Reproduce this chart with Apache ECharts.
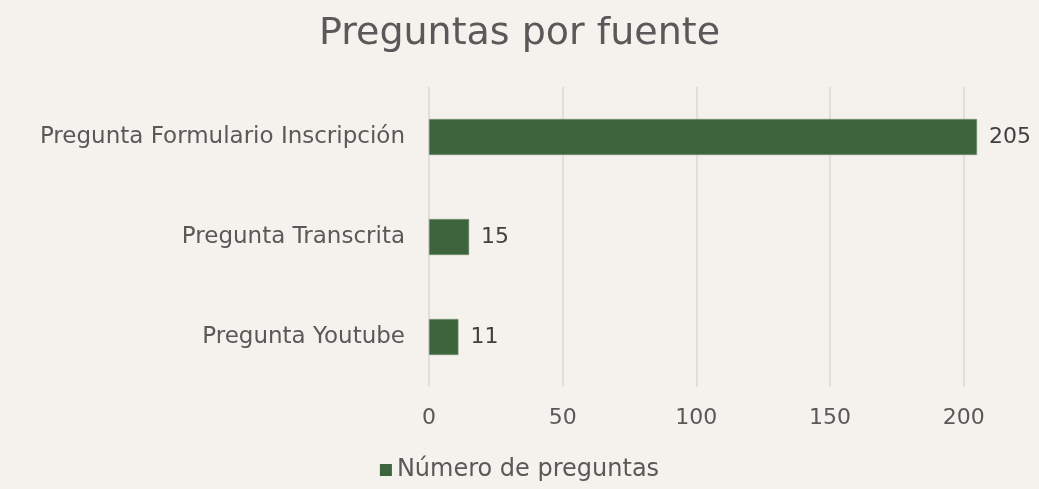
<!DOCTYPE html>
<html><head><meta charset="utf-8">
<script src="https://cdn.jsdelivr.net/npm/echarts@6/dist/echarts.min.js"></script>
<style>html,body{margin:0;padding:0;background:#f5f1ec}#c{width:1039px;height:489px}</style>
</head><body><div id="c"></div>
<script>
const titleText = 'Preguntas por fuente';
const categories = ['Pregunta Youtube', 'Pregunta Transcrita', 'Pregunta Formulario Inscripción'];
const seriesName = 'Número de preguntas';
const values = [11, 15, 205];

const chart = echarts.init(document.getElementById('c'));
const font = 'DejaVu Sans';
chart.setOption({
  backgroundColor: '#f5f1ec',
  animation: false,
  title: { text: titleText, left: 'center', top: 10,
    textStyle: { fontFamily: font, fontSize: 38, fontWeight: 'normal', color: '#595959' } },
  legend: { data: [seriesName], bottom: 2, left: 'center', itemWidth: 12, itemHeight: 12, itemGap: 6,
    icon: 'rect', itemStyle: { borderWidth: 0 },
    textStyle: { fontFamily: font, fontSize: 24, color: '#595959' } },
  grid: { left: 429, right: 62, top: 87, bottom: 102 },
  xAxis: { type: 'value', min: 0, max: Math.max(...values), interval: 50,
    axisLine: { show: false }, axisTick: { show: false },
    splitLine: { showMaxLine: false, lineStyle: { color: '#d9d9d9', width: 1.5 } },
    axisLabel: { showMaxLabel: false, fontFamily: font, fontSize: 22, color: '#595959', margin: 20 } },
  yAxis: { type: 'category', data: categories,
    axisLine: { show: false }, axisTick: { show: false },
    axisLabel: { fontFamily: font, fontSize: 23, color: '#595959', margin: 24 } },
  series: [{ name: seriesName, type: 'bar', data: values, barWidth: 36,
    itemStyle: { color: '#3e643d', borderColor: '#7a9a78', borderWidth: 0.5 },
    label: { show: true, position: 'right', distance: 12, fontFamily: font, fontSize: 22, color: '#404040' } }]
});
</script></body></html>
